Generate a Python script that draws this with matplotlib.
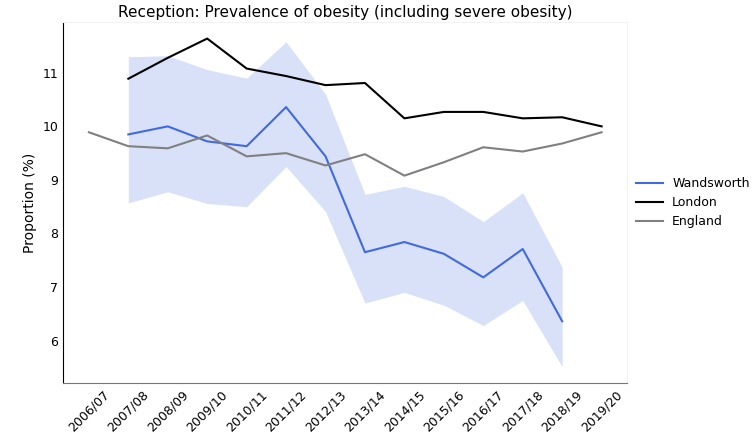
import matplotlib.pyplot as plt
import numpy as np

# Financial years
years = ['2006/07', '2007/08', '2008/09', '2009/10', '2010/11', '2011/12', '2012/13',
         '2013/14', '2014/15', '2015/16', '2016/17', '2017/18', '2018/19', '2019/20']

# Wandsworth (2007/08 - 2018/19) with confidence interval
wandsworth = [9.85, 10.00, 9.72, 9.63, 10.36, 9.44, 7.65, 7.84, 7.62, 7.18, 7.71, 6.36]
wand_upper = [11.30, 11.32, 11.06, 10.90, 11.58, 10.60, 8.73, 8.88, 8.69, 8.22, 8.76, 7.37]
wand_lower = [8.57, 8.78, 8.56, 8.50, 9.25, 8.41, 6.70, 6.90, 6.66, 6.28, 6.75, 5.51]

# London (2007/08 - 2019/20)
london = [10.89, 11.28, 11.64, 11.08, 10.94, 10.77, 10.81, 10.15, 10.27, 10.27, 10.15, 10.17, 10.00]

# England (2006/07 - 2019/20)
england = [9.89, 9.63, 9.59, 9.83, 9.44, 9.50, 9.27, 9.48, 9.08, 9.33, 9.61, 9.53, 9.68, 9.89]

x = np.arange(len(years))
xw = x[1:1 + len(wandsworth)]
xl = x[1:1 + len(london)]

fig, ax = plt.subplots(figsize=(7.53, 4.43), dpi=100)
fig.subplots_adjust(left=0.084, right=0.833, top=0.95, bottom=0.135)

ax.fill_between(xw, wand_lower, wand_upper, color='#4169e1', alpha=0.2, linewidth=0)
ax.plot(xw, wandsworth, color='#4169e1', lw=1.5, label='Wandsworth')
ax.plot(xl, london, color='black', lw=1.5, label='London')
ax.plot(x, england, color='grey', lw=1.5, label='England')

ax.set_xticks(x)
ax.set_xticklabels(years, rotation=45)
ax.set_yticks([6, 7, 8, 9, 10, 11])
ax.tick_params(length=0, labelsize=9)
ax.set_ylabel('Proportion (%)', fontsize=10)
ax.set_title('Reception: Prevalence of obesity (including severe obesity)', fontsize=11, pad=4)

for s in ['top', 'right']:
    ax.spines[s].set_color('#f2f2f2')
ax.spines['left'].set_color('black')
ax.spines['bottom'].set_color('#777777')

ax.legend(loc='center left', bbox_to_anchor=(1.0, 0.5), frameon=False, fontsize=9,
          handlelength=2.2, handletextpad=0.7, borderaxespad=0.3)

fig.savefig('out.png')
